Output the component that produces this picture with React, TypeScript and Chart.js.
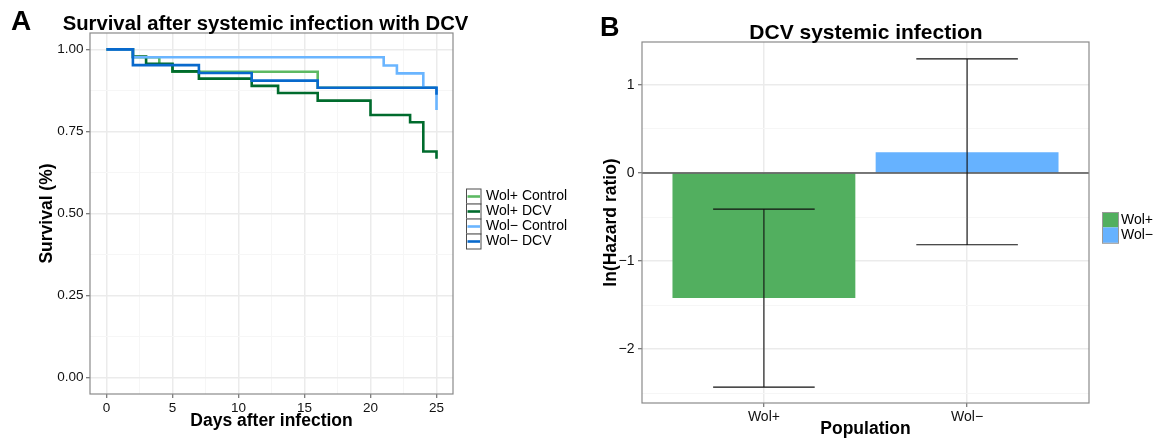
import React, { useEffect, useRef } from "react";
import { Chart, registerables } from "chart.js";

Chart.register(...registerables);

const FONT = '"Liberation Sans", Arial, Helvetica, sans-serif';

// ---------- Panel A: survival curves ----------
const seriesNames = ["Wol+ Control", "Wol+ DCV", "Wol\u2212 Control", "Wol\u2212 DCV"];
const seriesColors = ["#5DB963", "#006B2D", "#6AB5FF", "#0869CC"];

const daysWolPlusControl = [0, 2, 4, 5, 16, 25];
const survWolPlusControl = [1, 0.976, 0.954, 0.932, 0.883, 0.883];

const daysWolPlusDCV = [0, 2, 3, 5, 7, 11, 13, 16, 20, 23, 24, 25];
const survWolPlusDCV = [1, 0.978, 0.956, 0.933, 0.911, 0.889, 0.867, 0.844, 0.8, 0.778, 0.689, 0.667];

const daysWolMinusControl = [0, 2, 21, 22, 24, 25];
const survWolMinusControl = [1, 0.976, 0.951, 0.927, 0.883, 0.815];

const daysWolMinusDCV = [0, 2, 7, 11, 16, 25];
const survWolMinusDCV = [1, 0.952, 0.928, 0.905, 0.883, 0.862];

const seriesDays = [daysWolPlusControl, daysWolPlusDCV, daysWolMinusControl, daysWolMinusDCV];
const seriesSurv = [survWolPlusControl, survWolPlusDCV, survWolMinusControl, survWolMinusDCV];

const xMajorA = [0, 5, 10, 15, 20, 25];
const xMinorA = [2.5, 7.5, 12.5, 17.5, 22.5];
const xLabelsA = ["0", "5", "10", "15", "20", "25"];
const yMajorA = [0, 0.25, 0.5, 0.75, 1];
const yMinorA = [0.125, 0.375, 0.625, 0.875];
const yLabelsA = ["0.00", "0.25", "0.50", "0.75", "1.00"];

// ---------- Panel B: hazard ratios ----------
const populations = ["Wol+", "Wol\u2212"];
const lnHazard = [-1.42, 0.235];
const lnHazardLower = [-2.43, -0.815];
const lnHazardUpper = [-0.41, 1.295];
const barColors = ["#52AF5F", "#66B2FF"];

const yMajorB = [-2, -1, 0, 1];
const yMinorB = [-2.5, -1.5, -0.5, 0.5];
const yLabelsB = ["\u22122", "\u22121", "0", "1"];

const MAJOR_GRID = "#EBEBEB";
const MINOR_GRID = "#F6F6F6";
const TICK_COLOR = "#555555";
const TEXT_COLOR = "#111111";
const BORDER_COLOR = "#8A8A8A";

function labelFor(majors: number[], labels: string[], v: number) {
  const i = majors.findIndex((m) => Math.abs(m - v) < 1e-9);
  return i >= 0 ? labels[i] : "";
}
function isMajor(majors: number[], v: number) {
  return majors.some((m) => Math.abs(m - v) < 1e-9);
}

function gridOpts(majors: number[]) {
  return {
    offset: false,
    color: (c: any) => (c.tick && isMajor(majors, c.tick.value) ? MAJOR_GRID : MINOR_GRID),
    lineWidth: (c: any) => (c.tick && isMajor(majors, c.tick.value) ? 1.5 : 1),
    tickColor: (c: any) => (c.tick && isMajor(majors, c.tick.value) ? TICK_COLOR : "rgba(0,0,0,0)"),
    tickLength: 4,
    tickWidth: 1,
    drawTicks: true,
  };
}

const borderPlugin = {
  id: "panelBorder",
  afterDatasetsDraw(chart: any) {
    const { ctx, chartArea: a } = chart;
    ctx.save();
    ctx.strokeStyle = BORDER_COLOR;
    ctx.lineWidth = 1.2;
    ctx.strokeRect(a.left, a.top, a.right - a.left, a.bottom - a.top);
    ctx.restore();
  },
};

function text(ctx: any, s: string, x: number, y: number, font: string, align: string, baseline: string, rot = 0) {
  ctx.save();
  ctx.font = font;
  ctx.fillStyle = "#000";
  ctx.textAlign = align;
  ctx.textBaseline = baseline;
  ctx.translate(x, y);
  if (rot) ctx.rotate(rot);
  ctx.fillText(s, 0, 0);
  ctx.restore();
}

const decorA = {
  id: "decorA",
  afterDraw(chart: any) {
    const { ctx, chartArea: a } = chart;
    const cx = (a.left + a.right) / 2;
    const cy = (a.top + a.bottom) / 2;
    text(ctx, "A", 11, 30, `bold 28px ${FONT}`, "left", "alphabetic");
    text(ctx, "Survival after systemic infection with DCV", 265.5, 29.8, `bold 20.3px ${FONT}`, "center", "alphabetic");
    text(ctx, "Survival (%)", 47, cy, `bold 17.5px ${FONT}`, "center", "middle", -Math.PI / 2);
    text(ctx, "Days after infection", cx, 426, `bold 17.5px ${FONT}`, "center", "alphabetic");
    // legend
    const keyX = 466, keyW = 14.5, keyTop = 188.5, rowH = 15;
    seriesNames.forEach((name, i) => {
      const y = keyTop + i * rowH;
      ctx.save();
      ctx.fillStyle = "#fff";
      ctx.fillRect(keyX, y, keyW, rowH);
      ctx.strokeStyle = "#4d4d4d";
      ctx.lineWidth = 1;
      ctx.strokeRect(keyX + 0.5, y + 0.5, keyW, rowH);
      ctx.strokeStyle = seriesColors[i];
      ctx.lineWidth = 2.6;
      ctx.beginPath();
      ctx.moveTo(keyX + 1.5, y + rowH / 2 + 0.5);
      ctx.lineTo(keyX + keyW - 0.5, y + rowH / 2 + 0.5);
      ctx.stroke();
      ctx.restore();
      text(ctx, name, 486, y + rowH / 2 + 0.5, `14px ${FONT}`, "left", "middle");
    });
  },
};

const errorBarPlugin = {
  id: "errorBars",
  afterDatasetsDraw(chart: any) {
    const { ctx, chartArea: a } = chart;
    const xs = chart.scales.x;
    const ys = chart.scales.y;
    ctx.save();
    // zero reference line
    const y0 = ys.getPixelForValue(0);
    ctx.strokeStyle = "#000";
    ctx.lineWidth = 1.1;
    ctx.beginPath();
    ctx.moveTo(a.left, y0);
    ctx.lineTo(a.right, y0);
    ctx.stroke();
    populations.forEach((_, i) => {
      const xc = xs.getPixelForValue(i + 1);
      const xl = xs.getPixelForValue(i + 1 - 0.25);
      const xr = xs.getPixelForValue(i + 1 + 0.25);
      const yl = ys.getPixelForValue(lnHazardLower[i]);
      const yu = ys.getPixelForValue(lnHazardUpper[i]);
      ctx.strokeStyle = "#111";
      ctx.lineWidth = 1.1;
      ctx.beginPath();
      ctx.moveTo(xc, yl);
      ctx.lineTo(xc, yu);
      ctx.moveTo(xl, yl);
      ctx.lineTo(xr, yl);
      ctx.moveTo(xl, yu);
      ctx.lineTo(xr, yu);
      ctx.stroke();
    });
    ctx.restore();
  },
};

const decorB = {
  id: "decorB",
  afterDraw(chart: any) {
    const { ctx, chartArea: a } = chart;
    const cx = (a.left + a.right) / 2;
    const cy = (a.top + a.bottom) / 2;
    text(ctx, "B", 10, 35.5, `bold 27px ${FONT}`, "left", "alphabetic");
    text(ctx, "DCV systemic infection", 276, 39, `bold 21px ${FONT}`, "center", "alphabetic");
    text(ctx, "ln(Hazard ratio)", 20.7, cy, `bold 17.5px ${FONT}`, "center", "middle", -Math.PI / 2);
    text(ctx, "Population", cx, 433.5, `bold 17.5px ${FONT}`, "center", "alphabetic");
    const keyX = 512, keyW = 16, keyTop = 212, rowH = 15.4;
    populations.forEach((name, i) => {
      const y = keyTop + i * rowH;
      ctx.save();
      ctx.fillStyle = barColors[i];
      ctx.fillRect(keyX, y, keyW, rowH);
      ctx.restore();
      text(ctx, name, 531, y + rowH / 2 + 0.5, `14px ${FONT}`, "left", "middle");
    });
    ctx.save();
    ctx.strokeStyle = "#9a9a9a";
    ctx.lineWidth = 1;
    ctx.strokeRect(keyX + 0.5, keyTop + 0.5, keyW, rowH * populations.length);
    ctx.restore();
  },
};

export default function App() {
  const refA = useRef<HTMLCanvasElement | null>(null);
  const refB = useRef<HTMLCanvasElement | null>(null);

  useEffect(() => {
    document.body.style.margin = "0";
    const tickFont = { family: FONT, size: 13.5 };

    const chartA = new Chart(refA.current as HTMLCanvasElement, {
      type: "line",
      data: {
        datasets: seriesDays.map((days, i) => ({
          label: seriesNames[i],
          data: days.map((d, j) => ({ x: d, y: seriesSurv[i][j] })),
          borderColor: seriesColors[i],
          backgroundColor: seriesColors[i],
          borderWidth: 2.6,
          pointRadius: 0,
          stepped: "before",
          fill: false,
          order: seriesDays.length - 1 - i,
        })),
      },
      options: {
        responsive: false,
        animation: false,
        devicePixelRatio: 1,
        layout: { padding: { left: 0, top: 33, right: 147, bottom: 0 } },
        plugins: { legend: { display: false }, tooltip: { enabled: false }, title: { display: false } },
        scales: {
          x: {
            type: "linear",
            min: -1.25,
            max: 26.25,
            afterFit: (s: any) => {
              s.height = 45;
            },
            afterBuildTicks: (s: any) => {
              s.ticks = [...xMajorA, ...xMinorA].sort((p, q) => p - q).map((v) => ({ value: v }));
            },
            grid: gridOpts(xMajorA),
            border: { display: false },
            ticks: {
              autoSkip: false,
              maxRotation: 0,
              padding: 2,
              color: TEXT_COLOR,
              font: tickFont,
              callback: (v: any) => labelFor(xMajorA, xLabelsA, Number(v)),
            },
          },
          y: {
            type: "linear",
            min: -0.05,
            max: 1.05,
            afterFit: (s: any) => {
              s.width = 90;
            },
            afterBuildTicks: (s: any) => {
              s.ticks = [...yMajorA, ...yMinorA].sort((p, q) => p - q).map((v) => ({ value: v }));
            },
            grid: gridOpts(yMajorA),
            border: { display: false },
            ticks: {
              autoSkip: false,
              padding: 2.5,
              color: TEXT_COLOR,
              font: tickFont,
              callback: (v: any) => labelFor(yMajorA, yLabelsA, Number(v)),
            },
          },
        },
      } as any,
      plugins: [borderPlugin, decorA],
    } as any);

    const chartB = new Chart(refB.current as HTMLCanvasElement, {
      type: "bar",
      data: {
        datasets: [
          {
            label: "ln(Hazard ratio)",
            data: lnHazard.map((v, i) => ({ x: i + 1, y: v })),
            backgroundColor: barColors,
            borderWidth: 0,
            barPercentage: 0.9,
            categoryPercentage: 1,
          },
        ],
      },
      options: {
        responsive: false,
        animation: false,
        devicePixelRatio: 1,
        layout: { padding: { left: 0, top: 42, right: 74, bottom: 0 } },
        plugins: { legend: { display: false }, tooltip: { enabled: false }, title: { display: false } },
        scales: {
          x: {
            type: "linear",
            offset: false,
            min: 0.4,
            max: 2.6,
            afterFit: (s: any) => {
              s.height = 36;
            },
            afterBuildTicks: (s: any) => {
              s.ticks = populations.map((_, i) => ({ value: i + 1 }));
            },
            grid: gridOpts(populations.map((_, i) => i + 1)),
            border: { display: false },
            ticks: {
              autoSkip: false,
              maxRotation: 0,
              padding: 2,
              color: TEXT_COLOR,
              font: { family: FONT, size: 14 },
              callback: (v: any) => populations[Math.round(Number(v)) - 1] ?? "",
            },
          },
          y: {
            type: "linear",
            min: -2.61,
            max: 1.486,
            afterFit: (s: any) => {
              s.width = 52;
            },
            afterBuildTicks: (s: any) => {
              s.ticks = [...yMajorB, ...yMinorB].sort((p, q) => p - q).map((v) => ({ value: v }));
            },
            grid: gridOpts(yMajorB),
            border: { display: false },
            ticks: {
              autoSkip: false,
              padding: 3.5,
              color: TEXT_COLOR,
              font: { family: FONT, size: 14 },
              callback: (v: any) => labelFor(yMajorB, yLabelsB, Number(v)),
            },
          },
        },
      } as any,
      plugins: [errorBarPlugin, borderPlugin, decorB],
    } as any);

    return () => {
      chartA.destroy();
      chartB.destroy();
    };
  }, []);

  return (
    <div style={{ position: "absolute", left: 0, top: 0, width: 1163, height: 439, background: "#fff" }}>
      <canvas
        ref={refA}
        width={600}
        height={439}
        style={{ position: "absolute", left: 0, top: 0, width: 600, height: 439 }}
      />
      <canvas
        ref={refB}
        width={573}
        height={439}
        style={{ position: "absolute", left: 590, top: 0, width: 573, height: 439 }}
      />
    </div>
  );
}
